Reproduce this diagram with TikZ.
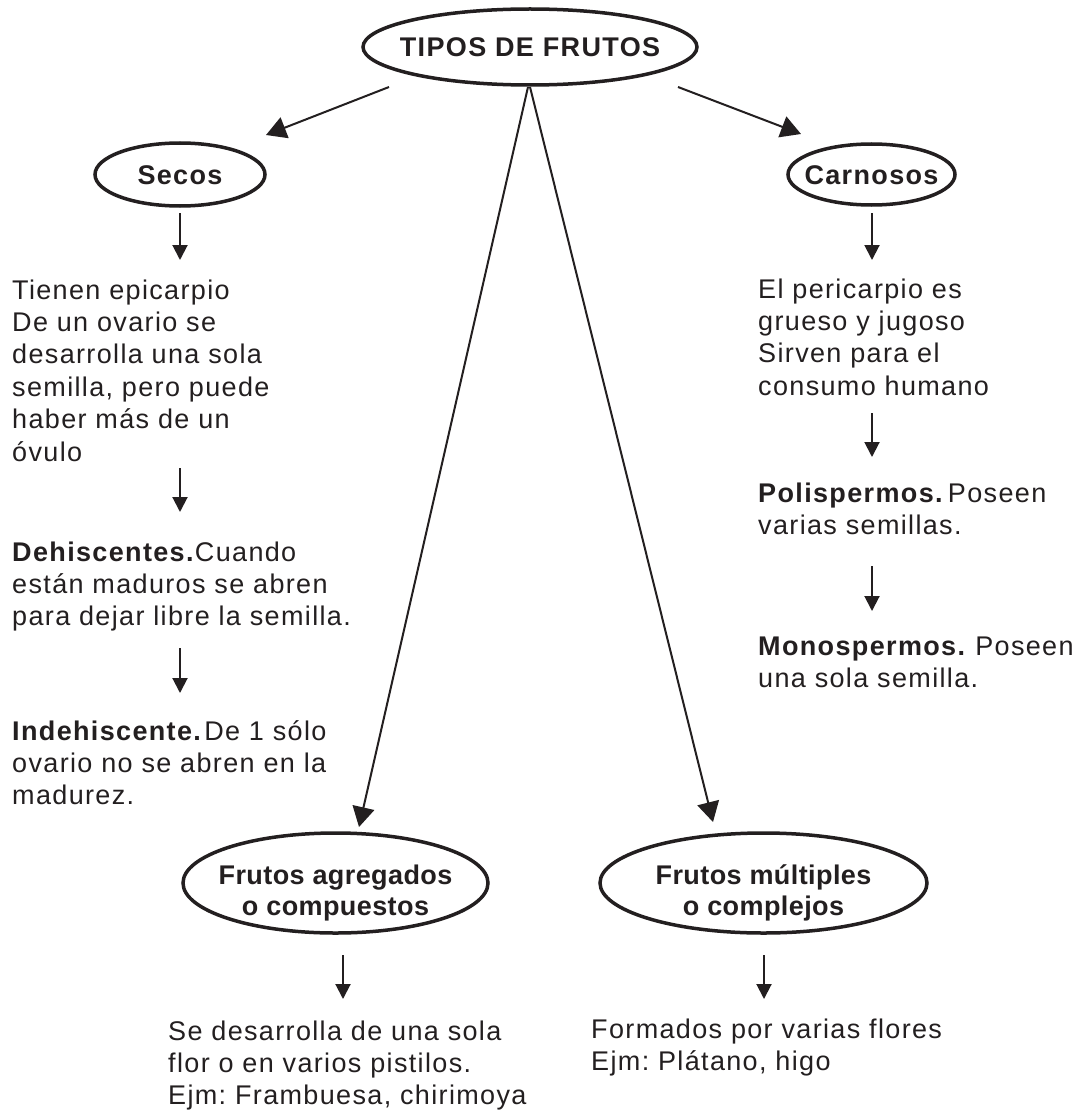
\documentclass[tikz,border=0pt]{standalone}
\usepackage{fontspec}
\setmainfont{Liberation Sans}[LetterSpace=5]
\newfontfamily\ellfont{Liberation Sans}[LetterSpace=1.5]
\usetikzlibrary{arrows.meta,shapes.geometric}
\definecolor{ink}{RGB}{35,31,32}
\frenchspacing
\newcommand{\elltxt}[2]{\makebox[0pt]{\smash{\raisebox{#1}{#2}}}}
\newcommand{\twoline}[2]{\begin{tabular}[t]{@{}c@{}}#1\\#2\end{tabular}}
\begin{document}
\begin{tikzpicture}[x=1pt,y=-1pt,
  ell/.style={draw=ink, line width=3.5pt, ellipse, inner sep=0pt, text=ink,
    font=\bfseries\fontsize{27}{31}\selectfont},
  ell2/.style={ell, font=\ellfont\bfseries\fontsize{27}{31}\selectfont},
  body/.style={anchor=base west, inner sep=0pt, text=ink,
    font=\frenchspacing\fontsize{27}{32.4}\selectfont},
  bigarrow/.style={draw=ink, line width=2pt, -{Triangle[length=20pt,width=22pt]}},
  smallarrow/.style={draw=ink, line width=2pt, -{Triangle[length=15pt,width=15pt]}}]
\useasboundingbox (0,0) rectangle (1076,1110);
\fill[white] (0,0) rectangle (1076,1110);

% ellipses
\node[ell, minimum width=334pt, minimum height=76pt] (tipos) at (530,47)
  {\elltxt{-10pt}{TIPOS DE FRUTOS}};
\node[ell, minimum width=170pt, minimum height=63pt] (secos) at (180,174.5)
  {\elltxt{-10.5pt}{Secos}};
\node[ell, minimum width=167pt, minimum height=61pt] (carn) at (871.5,174.5)
  {\elltxt{-10.5pt}{Carnosos}};
\node[ell2, minimum width=305pt, minimum height=100pt] (agr) at (335.5,883)
  {\elltxt{-1pt}{\twoline{Frutos agregados}{o compuestos}}};
\node[ell2, minimum width=327pt, minimum height=100pt] (mul) at (763.5,883)
  {\elltxt{-1pt}{\twoline{Frutos múltiples}{o complejos}}};

% text blocks
\node[body] (s1) at (12,299) {\begin{tabular}[t]{@{}l@{}}Tienen epicarpio\\De un ovario se\\desarrolla una sola\\semilla, pero puede\\haber más de un\\óvulo\end{tabular}};
\node[body] (s2) at (12,561) {\begin{tabular}[t]{@{}l@{}}\textbf{Dehiscentes.}Cuando\\están maduros se abren\\para dejar libre la semilla.\end{tabular}};
\node[body] (s3) at (12,740) {\begin{tabular}[t]{@{}l@{}}\textbf{Indehiscente.}\hspace{2pt}De 1 sólo\\ovario no se abren en la\\madurez.\end{tabular}};
\node[body] (c1) at (758,298) {\begin{tabular}[t]{@{}l@{}}El pericarpio es\\grueso y jugoso\\Sirven para el\\consumo humano\end{tabular}};
\node[body] (c2) at (758,502) {\begin{tabular}[t]{@{}l@{}}\textbf{Polispermos.}\hspace{4pt}Poseen\\varias semillas.\end{tabular}};
\node[body] (c3) at (758,655) {\begin{tabular}[t]{@{}l@{}}\textbf{Monospermos.} Poseen\\una sola semilla.\end{tabular}};
\node[body] (a1) at (168,1040) {\begin{tabular}[t]{@{}l@{}}Se desarrolla de una sola\\flor o en varios pistilos.\\Ejm: Frambuesa, chirimoya\end{tabular}};
\node[body] (m1) at (591,1038) {\begin{tabular}[t]{@{}l@{}}Formados por varias flores\\Ejm: Plátano, higo\end{tabular}};

% connector end points
\coordinate (tL) at (389,87);   \coordinate (tLe) at (266,135);
\coordinate (tR) at (678,87);   \coordinate (tRe) at (801,134);
\coordinate (tC1) at (528,87);  \coordinate (tC1e) at (359,827);
\coordinate (tC2) at (530,87);  \coordinate (tC2e) at (713,822);

\coordinate (v1s) at (180,213); \coordinate (v1e) at (180,260);
\coordinate (v2s) at (180,468); \coordinate (v2e) at (180,512);
\coordinate (v3s) at (180,648); \coordinate (v3e) at (180,693);
\coordinate (w1s) at (872,213); \coordinate (w1e) at (872,260);
\coordinate (w2s) at (872,413); \coordinate (w2e) at (872,457);
\coordinate (w3s) at (872,566); \coordinate (w3e) at (872,611);
\coordinate (g1s) at (343,955); \coordinate (g1e) at (343,999);
\coordinate (h1s) at (764,955); \coordinate (h1e) at (764,999);

% connectors
\draw[bigarrow] (tL) -- (tLe);
\draw[bigarrow] (tR) -- (tRe);
\draw[bigarrow] (tC1) -- (tC1e);
\draw[bigarrow] (tC2) -- (tC2e);

\draw[smallarrow] (v1s) -- (v1e);
\draw[smallarrow] (v2s) -- (v2e);
\draw[smallarrow] (v3s) -- (v3e);
\draw[smallarrow] (w1s) -- (w1e);
\draw[smallarrow] (w2s) -- (w2e);
\draw[smallarrow] (w3s) -- (w3e);
\draw[smallarrow] (g1s) -- (g1e);
\draw[smallarrow] (h1s) -- (h1e);
\end{tikzpicture}
\end{document}
